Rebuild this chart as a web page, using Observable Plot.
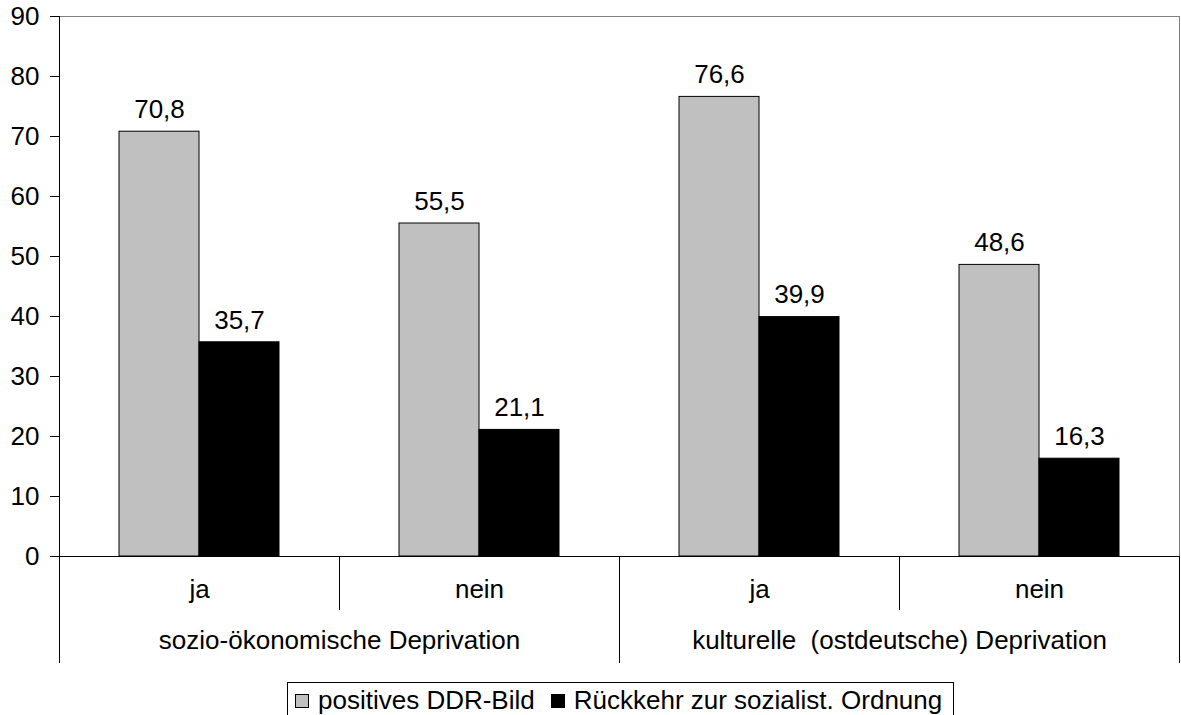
<!DOCTYPE html>
<html>
<head>
<meta charset="utf-8">
<script src="https://cdn.jsdelivr.net/npm/d3@7"></script>
<script src="https://cdn.jsdelivr.net/npm/@observablehq/plot@0.6"></script>
<style>
  body { margin: 0; background: #fff; font-family: "Liberation Sans", Arial, sans-serif; }
  #chart { position: relative; width: 1181px; height: 715px; overflow: hidden; background: #fff; }
  #chart svg text { white-space: pre; }
  #legend {
    position: absolute; left: 287px; top: 682px; height: 50px;
    border: 1px solid #000; box-sizing: border-box;
    padding: 3px 11px 0 7px; font-size: 26px; line-height: 29px;
    display: flex; align-items: flex-start; white-space: nowrap; color: #000;
  }
  .item { display: flex; align-items: flex-start; margin-right: 16px; }
  .item:last-child { margin-right: 0; }
  .sw { width: 12px; height: 12px; border: 1px solid #000; margin: 8px 9px 0 0; flex: none; }
</style>
</head>
<body>
<div id="chart"></div>
<script>
// ---- data ----
const groups = ["sozio-ökonomische Deprivation", "kulturelle  (ostdeutsche) Deprivation"];
const subLabels = ["ja", "nein", "ja", "nein"];
const groupIndex = [0, 0, 1, 1];
const seriesNames = ["positives DDR-Bild", "Rückkehr zur sozialist. Ordnung"];
const positivesValues = [70.8, 55.5, 76.6, 48.6];
const rueckkehrValues = [35.7, 21.1, 39.9, 16.3];
const yTicks = [0, 10, 20, 30, 40, 50, 60, 70, 80, 90];

// ---- styles / layout ----
const W = 1181, H = 676;
const mL = 59, mR = 2, mT = 16, mB = 120;
const bw = (W - mL - mR) / subLabels.length;
const plotH = H - mT - mB;
const seriesColors = ["#c0c0c0", "#000000"];
const frameGray = "#808080";
const fs = 26;

const keys = subLabels.map((s, i) => `${groupIndex[i]}-${s}-${i}`);
const cats = keys.map((k, i) => ({key: k, sub: subLabels[i], group: groupIndex[i]}));
const rowsA = keys.map((k, i) => ({key: k, value: positivesValues[i]}));
const rowsB = keys.map((k, i) => ({key: k, value: rueckkehrValues[i]}));
const groupRows = groups.map((g, gi) => ({key: keys[groupIndex.indexOf(gi)], label: g}));
const fmt = v => v.toFixed(1).replace(".", ",");

const chart = Plot.plot({
  width: W, height: H,
  marginLeft: mL, marginRight: mR, marginTop: mT, marginBottom: mB,
  style: {fontFamily: "Liberation Sans, Arial, sans-serif", fontSize: fs + "px", background: "#fff", color: "#000", overflow: "visible"},
  x: {domain: keys, padding: 0, axis: null},
  y: {domain: [0, 90], axis: null},
  marks: [
    Plot.ruleY([90], {stroke: frameGray}),
    Plot.ruleX([keys[keys.length - 1]], {dx: bw / 2, stroke: frameGray}),
    Plot.barY(rowsA, {x: "key", y: "value", fill: seriesColors[0], stroke: "#000", strokeWidth: 1, insetLeft: 60, insetRight: 140}),
    Plot.barY(rowsB, {x: "key", y: "value", fill: seriesColors[1], stroke: "#000", strokeWidth: 1, insetLeft: 140, insetRight: 60}),
    Plot.ruleY([0], {stroke: "#000"}),
    Plot.ruleX([keys[0]], {dx: -bw / 2, stroke: "#000", insetBottom: -107}),
    Plot.ruleX([keys[keys.length - 1]], {dx: bw / 2, stroke: "#000", insetTop: plotH, insetBottom: -107}),
    Plot.ruleX([keys[2]], {dx: -bw / 2, stroke: "#000", insetTop: plotH, insetBottom: -107}),
    Plot.ruleX([keys[1], keys[3]], {dx: -bw / 2, stroke: "#000", insetTop: plotH, insetBottom: -54}),
    Plot.axisY({ticks: yTicks, tickSize: 9, tickPadding: 11, tickFormat: d => String(d), label: null, anchor: "left", fontSize: fs}),
    Plot.text(rowsA, {x: "key", y: "value", text: d => fmt(d.value), dx: -40, dy: -22, fontSize: fs, fill: "#000"}),
    Plot.text(rowsB, {x: "key", y: "value", text: d => fmt(d.value), dx: 40, dy: -22, fontSize: fs, fill: "#000"}),
    Plot.text(cats, {x: "key", text: "sub", frameAnchor: "bottom", dy: 41, fontSize: fs, fill: "#000"}),
    Plot.text(groupRows, {x: "key", text: "label", frameAnchor: "bottom", dx: bw / 2, dy: 92, fontSize: fs, fill: "#000"})
  ]
});

const container = document.getElementById("chart");
container.appendChild(chart);

const legend = document.createElement("div");
legend.id = "legend";
seriesNames.forEach((name, i) => {
  const item = document.createElement("div");
  item.className = "item";
  const sw = document.createElement("span");
  sw.className = "sw";
  sw.style.background = seriesColors[i];
  const label = document.createElement("span");
  label.textContent = name;
  item.appendChild(sw);
  item.appendChild(label);
  legend.appendChild(item);
});
container.appendChild(legend);
</script>
</body>
</html>
